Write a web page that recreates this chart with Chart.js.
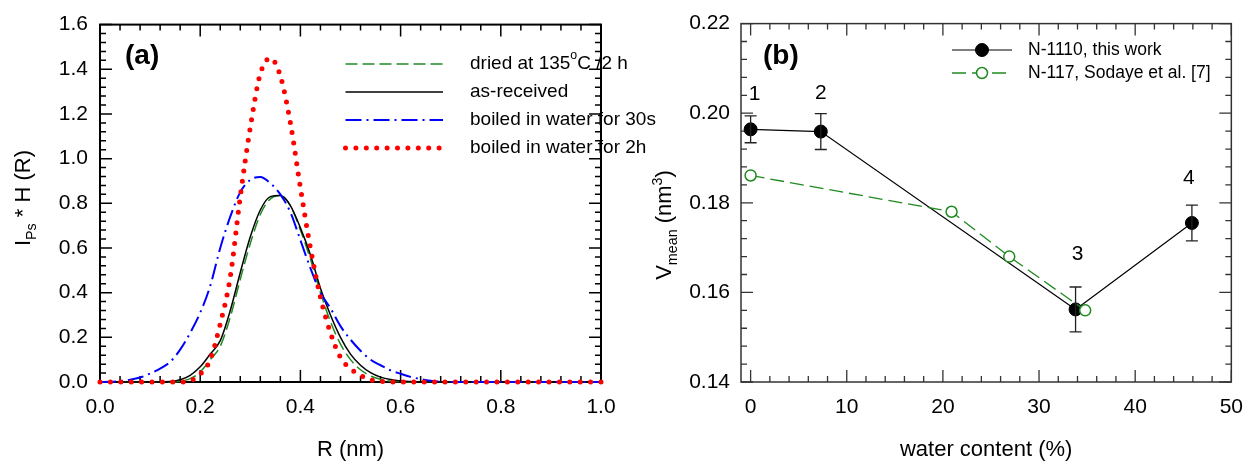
<!DOCTYPE html>
<html>
<head>
<meta charset="utf-8">
<script src="https://cdn.jsdelivr.net/npm/chart.js@4.4.0/dist/chart.umd.min.js"></script>
<style>
html, body { margin: 0; padding: 0; background: #fff; }
#wrap { position: relative; width: 1256px; height: 462px; overflow: hidden; }
#wrap canvas { position: absolute; top: 0; }
</style>
</head>
<body>
<div id="wrap">
	<canvas id="chartA" width="700" height="462" style="left:0"></canvas>
	<canvas id="chartB" width="628" height="462" style="left:628px"></canvas>
</div>
<script>
// ---- panel (a): size distributions ----
const radius = [0.00, 0.02, 0.04, 0.06, 0.08, 0.10, 0.12, 0.14, 0.16, 0.18, 0.20, 0.22, 0.24, 0.26, 0.28, 0.30, 0.32, 0.34, 0.36, 0.38, 0.40,
	0.42, 0.44, 0.46, 0.48, 0.50, 0.52, 0.54, 0.56, 0.58, 0.60, 0.62, 0.64, 0.66, 0.68, 0.70, 0.72, 0.74, 0.76, 0.78, 0.80,
	0.82, 0.84, 0.86, 0.88, 0.90, 0.92, 0.94, 0.96, 0.98, 1.00];
const dried = [0, 0, 0, 0, 0, 0, 0, 0, 0.004, 0.015, 0.045, 0.10, 0.16, 0.29, 0.46, 0.62, 0.75, 0.82, 0.835, 0.79, 0.68,
	0.55, 0.40, 0.27, 0.17, 0.10, 0.055, 0.027, 0.012, 0.004, 0.001, 0, 0, 0, 0, 0, 0, 0, 0, 0, 0,
	0, 0, 0, 0, 0, 0, 0, 0, 0, 0];
const asReceived = [0, 0, 0, 0, 0, 0, 0, 0.002, 0.01, 0.03, 0.068, 0.125, 0.185, 0.32, 0.49, 0.65, 0.77, 0.83, 0.835, 0.79, 0.69,
	0.57, 0.42, 0.30, 0.20, 0.125, 0.075, 0.042, 0.022, 0.011, 0.005, 0.002, 0, 0, 0, 0, 0, 0, 0, 0, 0,
	0, 0, 0, 0, 0, 0, 0, 0, 0, 0];
const boiled30s = [0, 0.001, 0.004, 0.01, 0.02, 0.038, 0.06, 0.09, 0.145, 0.22, 0.31, 0.43, 0.60, 0.74, 0.85, 0.905, 0.918, 0.89, 0.84, 0.76, 0.635,
	0.51, 0.40, 0.33, 0.25, 0.19, 0.14, 0.10, 0.075, 0.052, 0.037, 0.023, 0.013, 0.006, 0.002, 0, 0, 0, 0, 0, 0,
	0, 0, 0, 0, 0, 0, 0, 0, 0, 0];
const boiled2h = [0, 0, 0, 0, 0, 0, 0, 0, 0, 0.005, 0.035, 0.10, 0.26, 0.47, 0.83, 1.14, 1.38, 1.45, 1.37, 1.16, 0.87,
	0.60, 0.38, 0.22, 0.11, 0.06, 0.03, 0.01, 0.003, 0, 0, 0, 0, 0, 0, 0, 0, 0, 0, 0, 0,
	0, 0, 0, 0, 0, 0, 0, 0, 0, 0];
const namesA = ['dried at 135^{o}C /2 h', 'as-received', 'boiled in water for 30s', 'boiled in water for 2h'];
const rTicks = [0, 0.2, 0.4, 0.6, 0.8, 1.0];
const iTicks = [0, 0.2, 0.4, 0.6, 0.8, 1.0, 1.2, 1.4, 1.6];

// ---- panel (b): mean free volume vs water content ----
const waterThis = [0, 7.3, 33.8, 45.9];
const vThis = [0.1964, 0.1959, 0.1562, 0.1755];
const vThisErr = [0.003, 0.004, 0.005, 0.004];
const pointTags = ['1', '2', '3', '4'];
const waterSodaye = [0, 20.9, 26.9, 34.8];
const vSodaye = [0.1861, 0.1780, 0.1680, 0.1560];
const namesB = ['N-1110, this work', 'N-117, Sodaye et al. [7]'];
const wTicks = [0, 10, 20, 30, 40, 50];
const vTicks = [0.14, 0.16, 0.18, 0.20, 0.22];

const FONT = "'Liberation Sans', Arial, sans-serif";
Chart.defaults.font.family = FONT;
Chart.defaults.color = '#000';

function pairs(xs, ys) { return xs.map((x, i) => ({ x: x, y: ys[i] })); }

// split 'text^{sup}_{sub}' into drawable parts
function rich(str, size) {
	return str.split(/(\^\{[^}]*\}|_\{[^}]*\})/).filter(s => s).map(s => {
		if (s[0] == '^') return { t: s.slice(2, -1), size: size * 0.65, dy: -size * 0.42 };
		if (s[0] == '_') return { t: s.slice(2, -1), size: size * 0.65, dy: size * 0.25 };
		return { t: s, size: size, dy: 0 };
	});
}
function drawRich(ctx, str, size, x, y, align) {
	let parts = rich(str, size);
	let w = 0;
	parts.forEach(p => { ctx.font = p.size + 'px ' + FONT; p.w = ctx.measureText(p.t).width; w += p.w; });
	let cx = align == 'center' ? x - w / 2 : x;
	ctx.textAlign = 'left';
	parts.forEach(p => {
		ctx.font = p.size + 'px ' + FONT;
		ctx.fillText(p.t, cx, y + p.dy);
		cx += p.w;
	});
}

// frame with inward major/minor ticks on all four sides
const boxTicks = {
	id: 'boxTicks',
	beforeDatasetsDraw(chart, args, o) {
		const { ctx, chartArea: a, scales } = chart;
		const marks = (scale, major, minor) => {
			let out = [];
			let n0 = Math.ceil(scale.min / minor - 1e-6), n1 = Math.floor(scale.max / minor + 1e-6);
			for (let k = n0; k <= n1; k++) {
				let r = k * minor / major;
				out.push({ p: scale.getPixelForValue(k * minor), len: Math.abs(r - Math.round(r)) < 1e-6 ? o.major : o.minor });
			}
			return out;
		};
		ctx.save();
		ctx.strokeStyle = o.color;
		ctx.lineWidth = o.width;
		ctx.strokeRect(a.left, a.top, a.right - a.left, a.bottom - a.top);
		ctx.lineWidth = o.tickWidth;
		ctx.beginPath();
		marks(scales.x, o.xMajor, o.xMinor).forEach(m => {
			ctx.moveTo(m.p, a.bottom); ctx.lineTo(m.p, a.bottom - m.len);
			ctx.moveTo(m.p, a.top); ctx.lineTo(m.p, a.top + m.len);
		});
		marks(scales.y, o.yMajor, o.yMinor).forEach(m => {
			ctx.moveTo(a.left, m.p); ctx.lineTo(a.left + m.len, m.p);
			ctx.moveTo(a.right, m.p); ctx.lineTo(a.right - m.len, m.p);
		});
		ctx.stroke();
		ctx.restore();
	}
};

// axis titles, panel tag and legend drawn by hand (sub/superscripts)
const decor = {
	id: 'decor',
	afterDraw(chart, args, o) {
		const { ctx, chartArea: a } = chart;
		ctx.save();
		ctx.fillStyle = '#000';
		ctx.textBaseline = 'middle';
		drawRich(ctx, o.xTitle, 22, (a.left + a.right) / 2, o.xTitleY, 'center');
		ctx.save();
		ctx.translate(o.yTitleX, o.yTitleY);
		ctx.rotate(-Math.PI / 2);
		ctx.textBaseline = 'alphabetic';
		drawRich(ctx, o.yTitle, 22, 0, 8, 'center');
		ctx.restore();
		ctx.font = 'bold 28px ' + FONT;
		ctx.textAlign = 'left';
		ctx.fillText(o.tag, o.tagX, o.tagY);
		// legend
		o.names.forEach((name, i) => {
			let ds = chart.data.datasets[i];
			let y = o.legY[i];
			ctx.save();
			ctx.strokeStyle = ds.borderColor;
			ctx.lineWidth = ds.borderWidth;
			ctx.lineCap = ds.borderCapStyle || 'butt';
			ctx.setLineDash(ds.borderDash || []);
			ctx.beginPath();
			ctx.moveTo(o.legX0, y);
			ctx.lineTo(o.legX1, y);
			ctx.stroke();
			if (ds.pointRadius) {
				ctx.setLineDash([]);
				ctx.fillStyle = ds.pointBackgroundColor;
				ctx.lineWidth = ds.pointBorderWidth;
				ctx.strokeStyle = ds.pointBorderColor;
				ctx.beginPath();
				ctx.arc((o.legX0 + o.legX1) / 2, y, ds.pointRadius, 0, Math.PI * 2);
				ctx.fill();
				ctx.stroke();
			}
			ctx.restore();
			ctx.fillStyle = '#000';
			drawRich(ctx, name, o.legFont, o.legTextX, y, 'left');
		});
		ctx.restore();
	}
};

// error bars and point numbers for panel (b)
const errBars = {
	id: 'errBars',
	afterDatasetsDraw(chart, args, o) {
		const { ctx, scales: { x, y } } = chart;
		ctx.save();
		ctx.strokeStyle = '#222';
		ctx.lineWidth = 1.3;
		ctx.beginPath();
		waterThis.forEach((w, i) => {
			let px = x.getPixelForValue(w);
			let top = y.getPixelForValue(vThis[i] + vThisErr[i]);
			let bot = y.getPixelForValue(vThis[i] - vThisErr[i]);
			ctx.moveTo(px, top); ctx.lineTo(px, bot);
			ctx.moveTo(px - 6, top); ctx.lineTo(px + 6, top);
			ctx.moveTo(px - 6, bot); ctx.lineTo(px + 6, bot);
		});
		ctx.stroke();
		ctx.fillStyle = '#000';
		ctx.font = '21px ' + FONT;
		ctx.textAlign = 'center';
		ctx.textBaseline = 'middle';
		pointTags.forEach((t, i) => {
			let px = x.getPixelForValue(waterThis[i]);
			let top = y.getPixelForValue(vThis[i] + vThisErr[i]);
			ctx.fillText(t, px + o.offsets[i][0], top + o.offsets[i][1]);
		});
		ctx.restore();
	}
};

function fixedTicks(list) {
	return function (s) { s.ticks = list.map(v => ({ value: v })); };
}

// ---- chart (a) ----
var ctxA = document.getElementById('chartA').getContext('2d');
let configA = {
	type: 'line',
	data: {
		datasets: [{
			label: namesA[0],
			data: pairs(radius, dried),
			borderColor: '#1f8a1f',
			borderWidth: 1.5,
			borderDash: [12, 5],
			order: 3
		}, {
			label: namesA[1],
			data: pairs(radius, asReceived),
			borderColor: '#000',
			borderWidth: 1.5,
			order: 2
		}, {
			label: namesA[2],
			data: pairs(radius, boiled30s),
			borderColor: '#0000ff',
			borderWidth: 2,
			borderDash: [16, 5, 2, 5],
			order: 1
		}, {
			label: namesA[3],
			data: pairs(radius, boiled2h),
			borderColor: '#ff0000',
			borderWidth: 5,
			borderDash: [0, 10.4],
			borderCapStyle: 'round',
			order: 0
		}]
	},
	options: {
		responsive: false,
		animation: false,
		clip: false,
		layout: { padding: { top: 20, right: 99, left: 0, bottom: 0 } },
		elements: { point: { radius: 0 }, line: { cubicInterpolationMode: 'monotone' } },
		scales: {
			x: {
				type: 'linear', min: 0, max: 1,
				grid: { display: false, drawTicks: false }, border: { display: false },
				afterBuildTicks: fixedTicks(rTicks),
				afterFit: s => { s.height = 80; },
				ticks: { padding: 13, font: { size: 21 }, callback: v => v.toFixed(1) }
			},
			y: {
				min: 0, max: 1.6,
				grid: { display: false, drawTicks: false }, border: { display: false },
				afterBuildTicks: fixedTicks(iTicks),
				afterFit: s => { s.width = 100; },
				ticks: { padding: 12, font: { size: 21 }, callback: v => v.toFixed(1) }
			}
		},
		plugins: {
			legend: { display: false },
			tooltip: { enabled: false },
			boxTicks: { color: '#000', width: 2, tickWidth: 1.5, major: 12, minor: 6, xMajor: 0.2, xMinor: 0.04, yMajor: 0.2, yMinor: 0.04 },
			decor: {
				xTitle: 'R (nm)', xTitleY: 450,
				yTitle: 'I_{Ps} * H (R)', yTitleX: 22, yTitleY: 198,
				tag: '(a)', tagX: 125, tagY: 56,
				names: namesA, legX0: 345.5, legX1: 443, legTextX: 470, legY: [64, 92, 120, 148], legFont: 19
			}
		}
	},
	plugins: [boxTicks, decor]
};
var chartA = new Chart(ctxA, configA);

// ---- chart (b) ----
var ctxB = document.getElementById('chartB').getContext('2d');
let configB = {
	type: 'line',
	data: {
		datasets: [{
			label: namesB[0],
			data: pairs(waterThis, vThis),
			borderColor: '#000',
			borderWidth: 1.2,
			pointRadius: 6.5,
			pointBackgroundColor: '#000',
			pointBorderColor: '#000',
			pointBorderWidth: 1,
			order: 1
		}, {
			label: namesB[1],
			data: pairs(waterSodaye, vSodaye),
			borderColor: '#1f8a1f',
			borderWidth: 1.3,
			borderDash: [14, 6],
			pointRadius: 5.5,
			pointBackgroundColor: '#fff',
			pointBorderColor: '#1f8a1f',
			pointBorderWidth: 1.5,
			order: 0
		}]
	},
	options: {
		responsive: false,
		animation: false,
		clip: false,
		layout: { padding: { top: 20, right: 14, left: 0, bottom: 0 } },
		scales: {
			x: {
				type: 'linear', min: -1, max: 50,
				grid: { display: false, drawTicks: false }, border: { display: false },
				afterBuildTicks: fixedTicks(wTicks),
				afterFit: s => { s.height = 80; },
				ticks: { padding: 13, font: { size: 21 } }
			},
			y: {
				min: 0.14, max: 0.22,
				grid: { display: false, drawTicks: false }, border: { display: false },
				afterBuildTicks: fixedTicks(vTicks),
				afterFit: s => { s.width = 113; },
				ticks: { padding: 11, font: { size: 21 }, callback: v => v.toFixed(2) }
			}
		},
		plugins: {
			legend: { display: false },
			tooltip: { enabled: false },
			boxTicks: { color: '#333', width: 1.5, tickWidth: 1.3, major: 12, minor: 6, xMajor: 10, xMinor: 2, yMajor: 0.02, yMinor: 0.004 },
			errBars: { offsets: [[4, -22], [0, -20], [2, -33], [-3, -27]] },
			decor: {
				xTitle: 'water content (%)', xTitleY: 450,
				yTitle: 'V_{mean} (nm^{3})', yTitleX: 35, yTitleY: 225,
				tag: '(b)', tagX: 135, tagY: 56,
				names: namesB, legX0: 324, legX1: 384, legTextX: 400, legY: [50, 73], legFont: 17.5
			}
		}
	},
	plugins: [boxTicks, errBars, decor]
};
var chartB = new Chart(ctxB, configB);
</script>
</body>
</html>
